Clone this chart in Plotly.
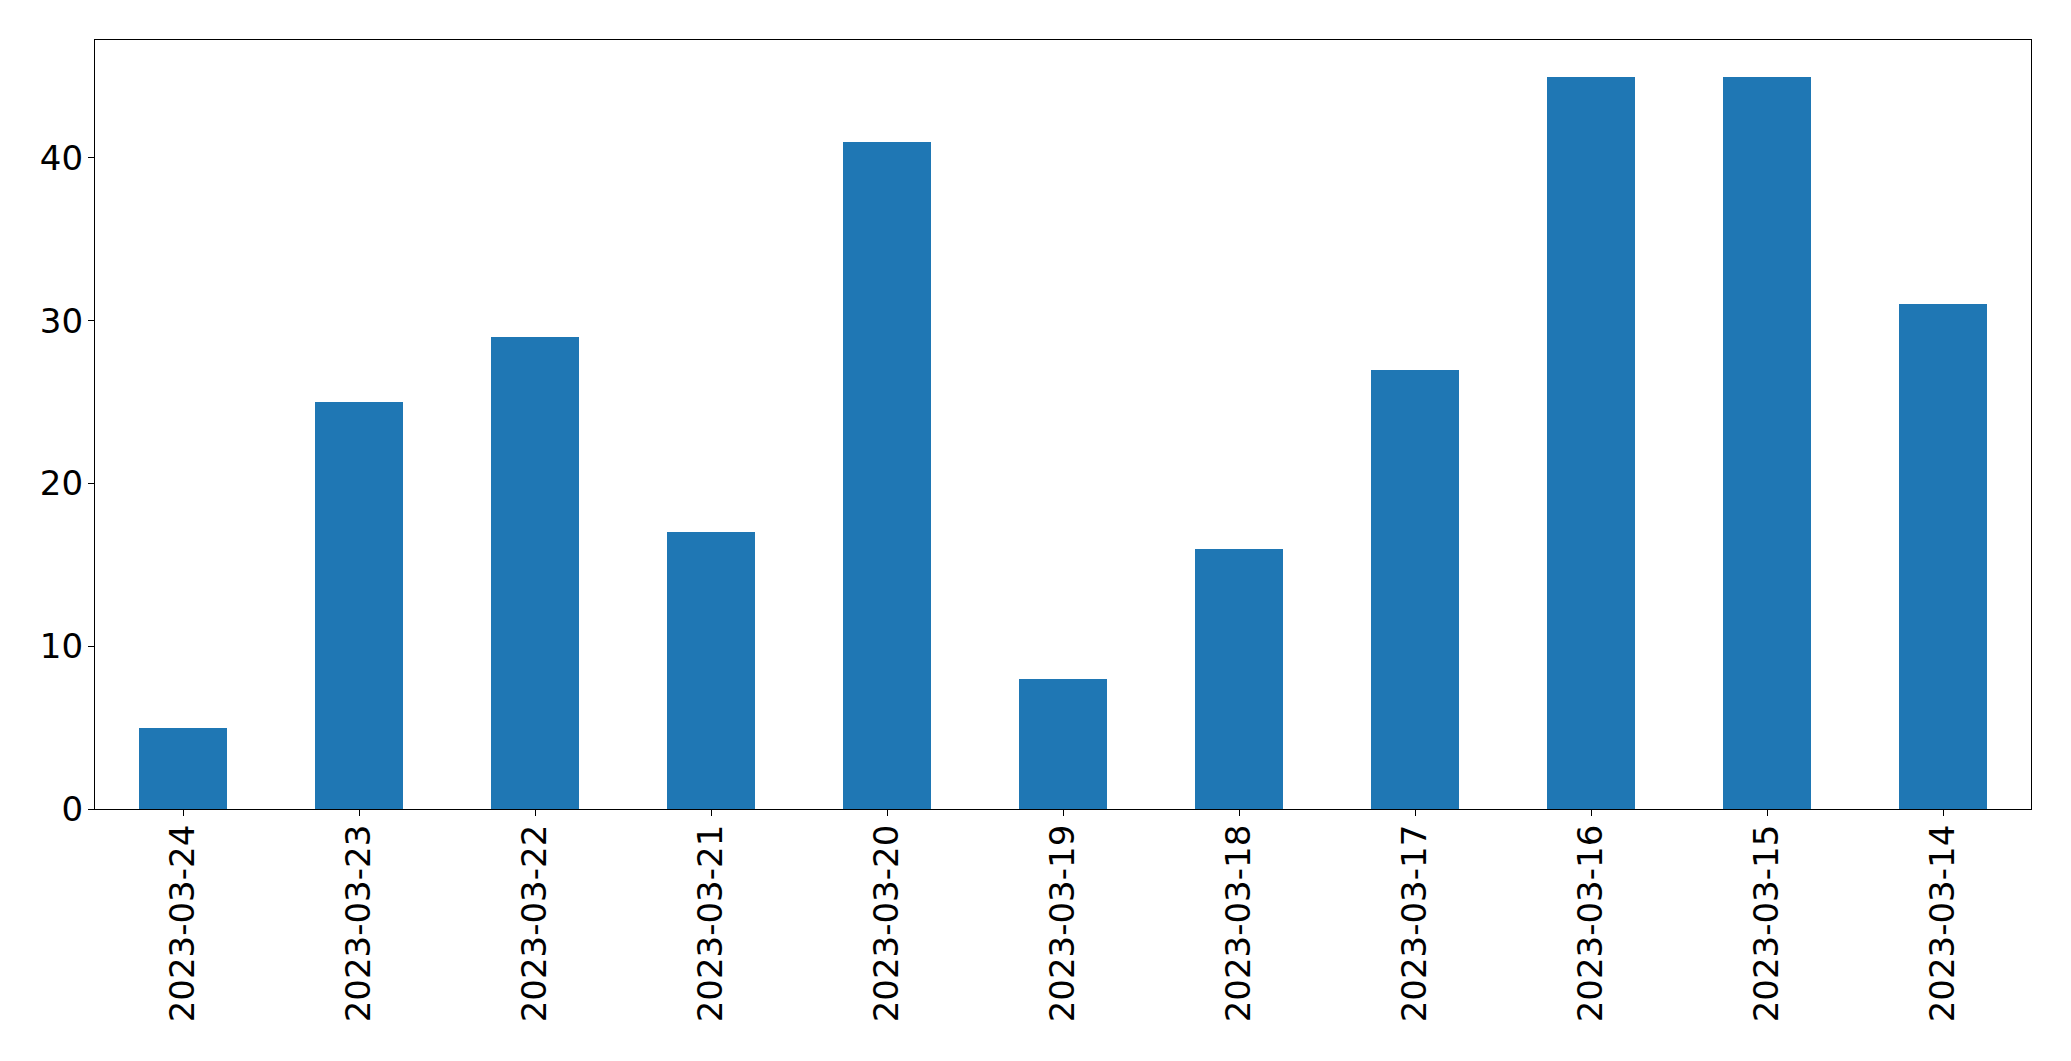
import plotly.graph_objects as go

dates = ["2023-03-24", "2023-03-23", "2023-03-22", "2023-03-21", "2023-03-20", "2023-03-19",
         "2023-03-18", "2023-03-17", "2023-03-16", "2023-03-15", "2023-03-14"]
counts = [5, 25, 29, 17, 41, 8, 16, 27, 45, 45, 31]
y_ticks = [0, 10, 20, 30, 40]

fig = go.Figure(go.Bar(x=dates, y=counts, width=0.5, marker=dict(color="#1f77b4", line=dict(width=0))))

fig.update_layout(
    width=2071, height=1061,
    margin=dict(l=95, r=40, t=40, b=252, pad=0),
    plot_bgcolor="white", paper_bgcolor="white",
    font=dict(family="DejaVu Sans", size=34, color="black"),
    showlegend=False,
    bargap=0,
)
fig.update_xaxes(
    type="category", range=[-0.5, len(dates) - 0.5], tickangle=-90,
    showline=True, linecolor="black", linewidth=1.3, mirror=True,
    ticks="outside", ticklen=6, tickwidth=1.3, tickcolor="black",
    showgrid=False, zeroline=False, ticklabelstandoff=-5,
)
fig.update_yaxes(
    range=[0, max(counts) * 1.05], tickvals=y_ticks,
    showline=True, linecolor="black", linewidth=1.3, mirror=True,
    ticks="outside", ticklen=6, tickwidth=1.3, tickcolor="black",
    showgrid=False, zeroline=False, ticklabelstandoff=-2,
)
html = fig.to_html(include_plotlyjs=True, full_html=True, config={"displayModeBar": False})
html = html.replace("<head>", "<head><style>html,body{margin:0;padding:0;overflow:hidden;}</style>", 1)
fig.write_html("out.html", config={"displayModeBar": False})
with open("out.html", "w", encoding="utf-8") as f:
    f.write(html)
